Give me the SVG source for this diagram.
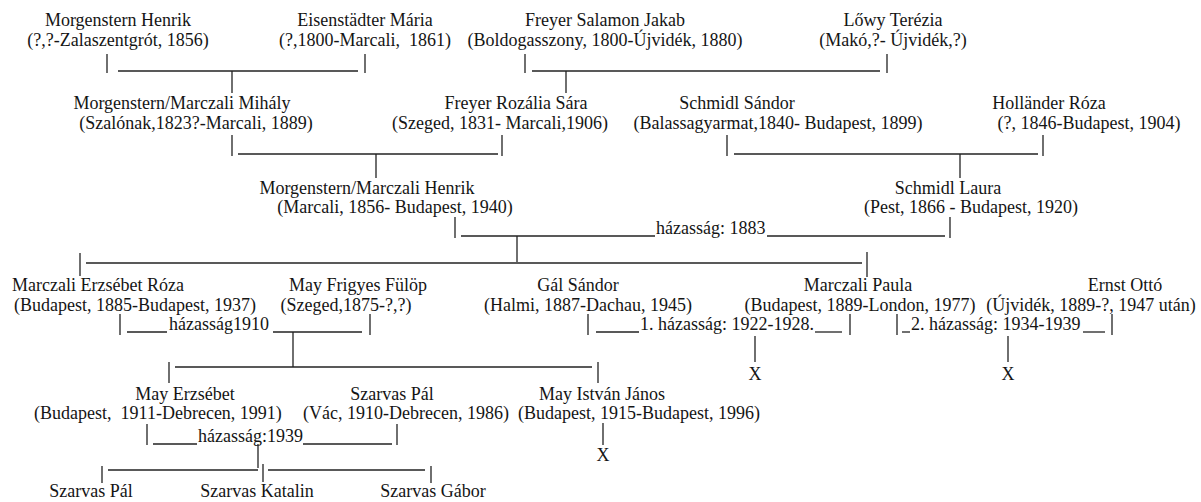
<svg xmlns="http://www.w3.org/2000/svg" width="1201" height="502" viewBox="0 0 1201 502">
<style>
text{font-family:"Liberation Serif","Times New Roman",serif;font-size:18px;fill:#151515}
.n text{text-anchor:middle}
.c line{stroke:#222;stroke-width:1.3}
.c text{text-anchor:start}
</style>
<rect width="1201" height="502" fill="#fff"/>
<g id="n1" class="n"><text x="118" y="26">Morgenstern Henrik</text><text x="118" y="46">(?,?-Zalaszentgrót, 1856)</text></g>
<g id="n2" class="n"><text x="365" y="26">Eisenstädter Mária</text><text x="365" y="46">(?,1800-Marcali,&#160; 1861)</text></g>
<g id="n3" class="n"><text x="605" y="26">Freyer Salamon Jakab</text><text x="605" y="46">(Boldogasszony, 1800-Újvidék, 1880)</text></g>
<g id="n4" class="n"><text x="893" y="26">Lőwy Terézia</text><text x="893" y="46">(Makó,?- Újvidék,?)</text></g>
<g id="n5" class="n"><text x="182" y="109">Morgenstern/Marczali Mihály</text><text x="196" y="129">(Szalónak,1823?-Marcali, 1889)</text></g>
<g id="n6" class="n"><text x="516" y="109">Freyer Rozália Sára</text><text x="500" y="129">(Szeged, 1831- Marcali,1906)</text></g>
<g id="n7" class="n"><text x="737" y="109">Schmidl Sándor</text><text x="778" y="129">(Balassagyarmat,1840- Budapest, 1899)</text></g>
<g id="n8" class="n"><text x="1049" y="109">Holländer Róza</text><text x="1089" y="129">(?, 1846-Budapest, 1904)</text></g>
<g id="n9" class="n"><text x="367" y="194">Morgenstern/Marczali Henrik</text><text x="395" y="213">(Marcali, 1856- Budapest, 1940)</text></g>
<g id="n10" class="n"><text x="948" y="194">Schmidl Laura</text><text x="971" y="213">(Pest, 1866 - Budapest, 1920)</text></g>
<g id="n11" class="n"><text x="98" y="291">Marczali Erzsébet Róza</text><text x="135" y="311">(Budapest, 1885-Budapest, 1937)</text></g>
<g id="n12" class="n"><text x="358" y="291">May Frigyes Fülöp</text><text x="346" y="311">(Szeged,1875-?,?)</text></g>
<g id="n13" class="n"><text x="578" y="291">Gál Sándor</text><text x="588" y="311">(Halmi, 1887-Dachau, 1945)</text></g>
<g id="n14" class="n"><text x="858" y="291">Marczali Paula</text><text x="860" y="311">(Budapest, 1889-London, 1977)</text></g>
<g id="n15" class="n"><text x="1125" y="291">Ernst Ottó</text><text x="1091" y="311">(Újvidék, 1889-?, 1947 után)</text></g>
<g id="n16" class="n"><text x="185" y="400">May Erzsébet</text><text x="158" y="419">(Budapest,&#160; 1911-Debrecen, 1991)</text></g>
<g id="n17" class="n"><text x="392" y="400">Szarvas Pál</text><text x="406" y="419">(Vác, 1910-Debrecen, 1986)</text></g>
<g id="n18" class="n"><text x="602" y="400">May István János</text><text x="639" y="419">(Budapest, 1915-Budapest, 1996)</text></g>
<g id="n19" class="n"><text x="91" y="497">Szarvas Pál</text></g>
<g id="n20" class="n"><text x="257" y="497">Szarvas Katalin</text></g>
<g id="n21" class="n"><text x="433" y="497">Szarvas Gábor</text></g>
<g id="x1" class="n"><text x="755" y="380">X</text></g>
<g id="x2" class="n"><text x="1008" y="380">X</text></g>
<g id="x3" class="n"><text x="603" y="461">X</text></g>
<g id="connectors" class="c">
<line x1="107" y1="54" x2="107" y2="73"/><line x1="118" y1="71" x2="358" y2="71"/><line x1="365" y1="54" x2="365" y2="73"/><line x1="232" y1="71" x2="232" y2="93"/>
<line x1="525" y1="54" x2="525" y2="73"/><line x1="532" y1="71" x2="880" y2="71"/><line x1="887" y1="54" x2="887" y2="73"/><line x1="566" y1="71" x2="566" y2="93"/>
<line x1="232" y1="135" x2="232" y2="156"/><line x1="238" y1="154" x2="498" y2="154"/><line x1="502" y1="135" x2="502" y2="156"/><line x1="376" y1="154" x2="376" y2="178"/>
<line x1="727" y1="135" x2="727" y2="156"/><line x1="734" y1="154" x2="1038" y2="154"/><line x1="1043" y1="135" x2="1043" y2="156"/><line x1="960" y1="154" x2="960" y2="178"/>
<line x1="455" y1="217" x2="455" y2="238"/><line x1="461" y1="236" x2="655" y2="236"/><line x1="767" y1="236" x2="945" y2="236"/><line x1="950" y1="217" x2="950" y2="238"/><line x1="517" y1="236" x2="517" y2="262"/>
<text x="656" y="234">házasság: 1883</text>
<line x1="80" y1="253" x2="80" y2="276"/><line x1="86" y1="263" x2="862" y2="263"/><line x1="867" y1="252" x2="867" y2="277"/>
<line x1="120" y1="314" x2="120" y2="335"/><line x1="127" y1="332" x2="167" y2="332"/><line x1="273" y1="332" x2="362" y2="332"/><line x1="370" y1="314" x2="370" y2="335"/><line x1="293" y1="332" x2="293" y2="367"/>
<text x="169" y="330">házasság1910</text>
<line x1="588" y1="314" x2="588" y2="335"/><line x1="596" y1="332" x2="639" y2="332"/><line x1="815" y1="332" x2="842" y2="332"/><line x1="850" y1="314" x2="850" y2="335"/><line x1="755" y1="336" x2="755" y2="362"/>
<text x="640" y="330">1. házasság: 1922-1928.</text>
<line x1="897" y1="314" x2="897" y2="335"/><line x1="902" y1="332" x2="910" y2="332"/><line x1="1083" y1="332" x2="1105" y2="332"/><line x1="1112" y1="314" x2="1112" y2="335"/><line x1="1008" y1="336" x2="1008" y2="362"/>
<text x="911" y="330">2. házasság: 1934-1939</text>
<line x1="169" y1="362" x2="169" y2="383"/><line x1="175" y1="367" x2="592" y2="367"/><line x1="598" y1="362" x2="598" y2="383"/>
<line x1="147" y1="424" x2="147" y2="445"/><line x1="153" y1="444" x2="197" y2="444"/><line x1="303" y1="444" x2="392" y2="444"/><line x1="397" y1="424" x2="397" y2="445"/><line x1="258" y1="444" x2="258" y2="468"/>
<text x="198" y="442">házasság:1939</text>
<line x1="603" y1="423" x2="603" y2="445"/>
<line x1="102" y1="466" x2="102" y2="483"/><line x1="108" y1="470" x2="258" y2="470"/><line x1="263" y1="464" x2="263" y2="482"/><line x1="268" y1="470" x2="425" y2="470"/><line x1="431" y1="466" x2="431" y2="483"/>
</g>
</svg>
